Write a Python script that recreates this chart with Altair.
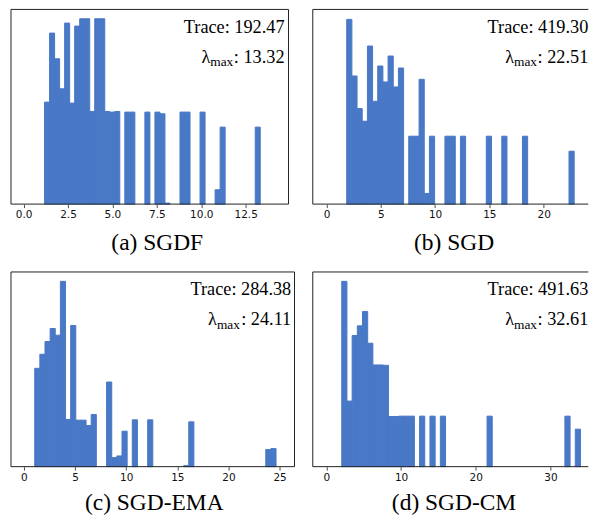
import altair as alt
import pandas as pd

# ---- data -------------------------------------------------------------
names = ["(a) SGDF", "(b) SGD", "(c) SGD-EMA", "(d) SGD-CM"]
traces = ["192.47", "419.30", "284.38", "491.63"]
lmax = ["13.32", "22.51", "24.11", "32.61"]

bin_start = [1.18, 1.865, 1.06, 2.05]
bin_width = [0.2823, 0.476, 0.502, 0.695]

heights_a = [306, 513, 436, 346, 543, 303, 534, 556, 556, 278, 556, 556, 278, 276, 278,
             0, 276, 276, 0, 0, 276, 0, 276, 271, 3, 0, 0, 276, 276, 0, 0, 276, 0, 0,
             43, 231, 0, 0, 0, 0, 0, 0, 231]
heights_b = [555, 385, 287, 249, 475, 309, 415, 367, 445, 352, 409,
             0, 204, 204, 375, 32, 204, 0, 0, 204, 204, 0, 204,
             0, 0, 0, 0, 204, 0, 0, 204, 0, 0, 0, 204,
             0, 0, 0, 0, 0, 0, 0, 0, 159]
heights_c = [294, 336, 374, 413, 393, 554, 141, 422, 139, 139, 123, 156,
             0, 0, 253, 27, 32, 106, 0, 140, 0, 0, 140,
             0, 0, 0, 0, 0, 0, 3, 134,
             0, 0, 0, 0, 0, 0, 0, 0, 0, 0, 0, 0, 0, 0, 51, 54]
heights_d = [554, 196, 392, 421, 464, 369, 304, 304, 303, 150, 150, 151, 151, 151,
             0, 151, 0, 151, 0, 151, 0, 0, 0, 0, 0, 0, 0, 0, 151,
             0, 0, 0, 0, 0, 0, 0, 0, 0, 0, 0, 0, 0, 0, 151, 0, 112]
heights = [heights_a, heights_b, heights_c, heights_d]

y_tops = [584, 585, 582, 582]
x_domains = [[-0.71, 14.91], [-1.26, 24.11], [-1.26, 26.46], [-1.83, 35.07]]
tick_values = [[0, 2.5, 5, 7.5, 10, 12.5, 15], [0, 5, 10, 15, 20],
               [0, 5, 10, 15, 20, 25], [0, 10, 20, 30]]
tick_formats = [".1f", "d", "d", "d"]

# ---- styling -----------------------------------------------------------
BLUE = "#4878c6"
FRAME = "#222222"
SERIF = "Liberation Serif"
PH = 195
widths = [278, 276, 284, 276]
right_border = [True, False, True, False]
text_R = [274, 276, 280.7, 276]
text_T = [23.7, 23.7, 23.0, 23.0]
text_L = [53.7, 53.7, 53.6, 53.6]
cap_x = [146, 141, 143, 141]
cap_y = [45, 45, 43, 43]
FS = 18.3
FS_SUB = 13.4
W_COLON = 2.778 * FS
W_MAX = 1.722 * FS_SUB


def panel(i):
    W = widths[i]
    rows = []
    for k, h in enumerate(heights[i]):
        if h > 0:
            rows.append({"x0": bin_start[i] + k * bin_width[i],
                         "x1": bin_start[i] + (k + 1) * bin_width[i],
                         "h": h, "base": 0})
    df = pd.DataFrame(rows)
    bars = alt.Chart(df).mark_rect(color=BLUE, stroke=BLUE, strokeWidth=1).encode(
        x=alt.X("x0:Q",
                scale=alt.Scale(domain=x_domains[i], nice=False, zero=False),
                axis=alt.Axis(values=tick_values[i], format=tick_formats[i],
                              title=names[i], titleX=cap_x[i], titleY=cap_y[i],
                              titleAlign="center", titleBaseline="alphabetic")),
        x2="x1",
        y=alt.Y("h:Q", scale=alt.Scale(domain=[0, y_tops[i]], nice=False), axis=None),
        y2="base",
    )
    info = pd.DataFrame({"trace": ["Trace: " + traces[i]],
                         "lam": [": " + lmax[i]],
                         "sub": ["max"], "sym": ["\u03bb"]})
    base = alt.Chart(info)
    t_trace = base.mark_text(align="right", baseline="alphabetic", font=SERIF,
                             fontSize=FS, color="black").encode(
        x=alt.value(text_R[i]), y=alt.value(text_T[i]), text="trace:N")
    t_val = base.mark_text(align="right", baseline="alphabetic", font=SERIF,
                           fontSize=FS, color="black").encode(
        x=alt.value(text_R[i]), y=alt.value(text_L[i]), text="lam:N")
    t_sub = base.mark_text(align="right", baseline="alphabetic", font=SERIF,
                           fontSize=FS_SUB, color="black").encode(
        x=alt.value(text_R[i] - W_COLON - 0.5), y=alt.value(text_L[i] + 3.3), text="sub:N")
    t_sym = base.mark_text(align="right", baseline="alphabetic", font=SERIF,
                           fontSize=FS, color="black").encode(
        x=alt.value(text_R[i] - W_COLON - W_MAX - 0.5), y=alt.value(text_L[i]), text="sym:N")

    rule = base.mark_rule(color=FRAME, strokeWidth=1)
    frame = [
        rule.encode(x=alt.value(0), y=alt.value(0), y2=alt.value(PH)),
        rule.encode(x=alt.value(0), x2=alt.value(W), y=alt.value(0)),
        rule.encode(x=alt.value(0), x2=alt.value(W), y=alt.value(PH)),
    ]
    if right_border[i]:
        frame.append(rule.encode(x=alt.value(W), y=alt.value(0), y2=alt.value(PH)))
    return alt.layer(bars, *frame, t_trace, t_val, t_sub, t_sym).properties(width=W, height=PH)


chart = alt.concat(panel(0), panel(1), panel(2), panel(3), columns=2,
                   spacing={"row": 68, "column": 18.3}, bounds="flush").properties(
    padding={"left": 2, "top": 0, "right": 0, "bottom": 0}
).configure_view(
    stroke=None
).configure_axis(
    grid=False, domain=False, ticks=True, tickSize=3.5, tickWidth=0.8,
    tickColor="#222222", labelFont="DejaVu Sans", labelFontSize=10.5,
    labelColor="#111111", labelPadding=2,
    titleFont=SERIF, titleFontSize=23.5, titleFontWeight="normal", titleColor="black"
)

chart.save("out.html", embed_options={"renderer": "svg", "actions": False})
